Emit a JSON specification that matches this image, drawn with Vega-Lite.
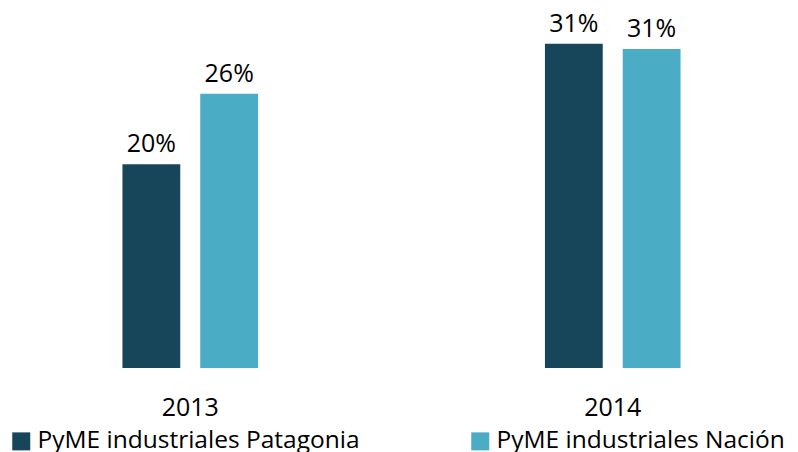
{
  "$schema": "https://vega.github.io/schema/vega-lite/v6.json",
  "width": 793,
  "height": 368,
  "autosize": {"type": "none"},
  "padding": {"left": 5, "top": 0, "right": 0, "bottom": 84},
  "background": "white",
  "config": {"view": {"stroke": null}, "font": "Open Sans"},
  "data": {
    "values": [
      {"anio": "2013", "serie": "PyME industriales Patagonia", "valor": 0.196},
      {"anio": "2013", "serie": "PyME industriales Nación", "valor": 0.264},
      {"anio": "2014", "serie": "PyME industriales Patagonia", "valor": 0.312},
      {"anio": "2014", "serie": "PyME industriales Nación", "valor": 0.307}
    ]
  },
  "encoding": {
    "x": {
      "field": "anio",
      "type": "nominal",
      "scale": {"paddingInner": 0.679, "paddingOuter": 0.278},
      "axis": {
        "title": null,
        "domain": false,
        "ticks": false,
        "tickSize": 0,
        "labelPadding": 27,
        "labelFontSize": 25,
        "labelFont": "Open Sans",
        "labelColor": "black",
        "labelAngle": 0
      }
    },
    "xOffset": {
      "field": "serie",
      "type": "nominal",
      "sort": ["PyME industriales Patagonia", "PyME industriales Nación"],
      "scale": {"paddingInner": 0.257, "paddingOuter": 0}
    },
    "y": {
      "field": "valor",
      "type": "quantitative",
      "scale": {"domain": [0, 0.3541], "nice": false, "zero": true},
      "axis": null
    }
  },
  "layer": [
    {
      "mark": {"type": "bar"},
      "encoding": {
        "color": {
          "field": "serie",
          "type": "nominal",
          "scale": {
            "domain": ["PyME industriales Patagonia", "PyME industriales Nación"],
            "range": ["#17455A", "#4BACC6"]
          },
          "legend": {
            "orient": "none",
            "legendX": 4,
            "legendY": 429,
            "direction": "horizontal",
            "columns": 2,
            "columnPadding": 108,
            "title": null,
            "symbolType": "square",
            "symbolSize": 324,
            "symbolStrokeWidth": 0,
            "labelFontSize": 24.5,
            "labelFont": "Open Sans",
            "labelColor": "black",
            "labelOffset": 4,
            "labelLimit": 0,
            "padding": 0
          }
        }
      }
    },
    {
      "mark": {"type": "text", "dy": -12, "fontSize": 25, "baseline": "alphabetic", "color": "black", "font": "Open Sans"},
      "encoding": {
        "text": {"field": "valor", "type": "quantitative", "format": ".0%"}
      }
    }
  ]
}
